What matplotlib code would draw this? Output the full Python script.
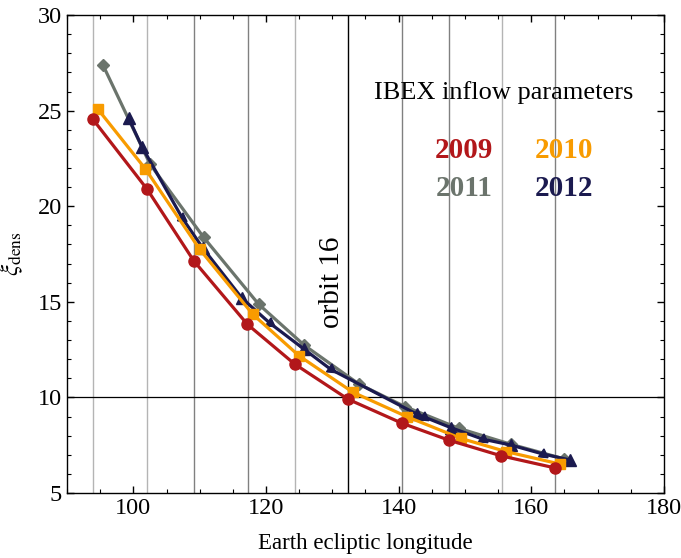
import matplotlib
matplotlib.use("Agg")
import matplotlib.pyplot as plt
from matplotlib.ticker import MultipleLocator

plt.rcParams['font.family'] = ['Liberation Serif', 'DejaVu Serif']
plt.rcParams['mathtext.fontset'] = 'stix'

# Data
x2009 = [93.9, 102.1, 109.1, 117.2, 124.3, 132.4, 140.5, 147.6, 155.5, 163.6]
y2009 = [24.55, 20.88, 17.15, 13.82, 11.75, 9.90, 8.65, 7.76, 6.94, 6.31]

x2010 = [94.65, 101.8, 110.0, 118.0, 125.0, 133.1, 141.25, 149.35, 156.25, 164.25]
y2010 = [25.08, 21.96, 17.75, 14.35, 12.17, 10.27, 8.99, 7.86, 7.16, 6.52]

x2011 = [95.4, 102.5, 110.6, 118.9, 125.8, 134.0, 141.0, 149.1, 156.9, 165.0]
y2011 = [27.40, 22.21, 18.37, 14.87, 12.72, 10.70, 9.51, 8.38, 7.55, 6.78]

x2012 = [99.3, 101.3, 107.4, 110.5, 116.4, 120.6, 125.75, 129.75, 142.75, 143.75,
         147.85, 152.65, 156.9, 161.75, 165.8]
y2012 = [24.60, 23.11, 19.37, 17.80, 15.18, 13.88, 12.52, 11.47, 9.12, 8.99,
         8.42, 7.82, 7.51, 7.04, 6.73]
arrow2012 = [False, False, True, False, False, True, False, True, False, True,
             False, True, False, True, False]

grid_light = [93.9, 102.1, 124.4, 155.6]
grid_dark = [109.15, 117.3, 140.5, 147.55, 163.6]
orbit16_x = 132.4
ref_y = 10

x_ticks = [100, 120, 140, 160, 180]
y_ticks = [5, 10, 15, 20, 25, 30]

c09 = '#B2171A'
c10 = '#F89B00'
c11 = '#6B746C'
c12 = '#1B1A4F'

fig = plt.figure(figsize=(6.81, 5.58), dpi=100)
ax = fig.add_axes([0.0984, 0.1165, 0.8766, 0.8565])

for gx in grid_light:
    ax.axvline(gx, color='#b4b4b4', lw=1.0, zorder=1)
for gx in grid_dark:
    ax.axvline(gx, color='#808080', lw=1.0, zorder=1)
ax.axvline(orbit16_x, color='black', lw=1.0, zorder=1)
ax.axhline(ref_y, color='black', lw=0.9, zorder=1)

lw = 2.3
ax.plot(x2011, y2011, '-', color=c11, lw=lw, marker='D', ms=6.2, zorder=3)
ax.plot(x2012, y2012, '-', color=c12, lw=lw, zorder=4)
xu = [x for x, a in zip(x2012, arrow2012) if not a]
yu = [y for y, a in zip(y2012, arrow2012) if not a]
xa = [x for x, a in zip(x2012, arrow2012) if a]
ya = [y for y, a in zip(y2012, arrow2012) if a]
ax.plot(xu, yu, linestyle='none', color=c12, marker='^', ms=8, zorder=4)
ax.plot(xa, ya, linestyle='none', color=c12, marker=(3, 0, -125), ms=8, zorder=4)
ax.plot(x2010, y2010, '-', color=c10, lw=lw, marker='s', ms=7, zorder=5)
ax.plot(x2009, y2009, '-', color=c09, lw=lw, marker='o', ms=8, zorder=6)

ax.set_xlim(90, 180)
ax.set_ylim(5, 30)
ax.set_xticks(x_ticks)
ax.set_yticks(y_ticks)
ax.xaxis.set_minor_locator(MultipleLocator(5))
ax.yaxis.set_minor_locator(MultipleLocator(1))
ax.tick_params(which='both', direction='in', top=True, right=True, labelsize=17.5)
ax.tick_params(which='major', length=5, width=1)
ax.tick_params(which='minor', length=3, width=0.8)
for s in ax.spines.values():
    s.set_linewidth(1.0)

ax.set_xlabel('Earth ecliptic longitude', fontsize=16.5, labelpad=10)
ax.set_ylabel(r'$\xi_{\mathrm{dens}}$', fontsize=18)
ax.yaxis.set_label_coords(-0.07, 0.50)

fig.text(504 / 681, 1 - 93 / 558, 'IBEX inflow parameters', fontsize=19,
         ha='center', va='center')
fig.text(464 / 681, 1 - 150 / 558, '2009', color=c09, fontsize=21, fontweight='bold', ha='center', va='center')
fig.text(564 / 681, 1 - 150 / 558, '2010', color=c10, fontsize=21, fontweight='bold', ha='center', va='center')
fig.text(464 / 681, 1 - 188 / 558, '2011', color=c11, fontsize=21, fontweight='bold', ha='center', va='center')
fig.text(564 / 681, 1 - 188 / 558, '2012', color=c12, fontsize=21, fontweight='bold', ha='center', va='center')
fig.text(332 / 681, 1 - 282 / 558, 'orbit 16', fontsize=21, rotation=90, ha='center', va='center')

fig.savefig('out.png', dpi=100)
